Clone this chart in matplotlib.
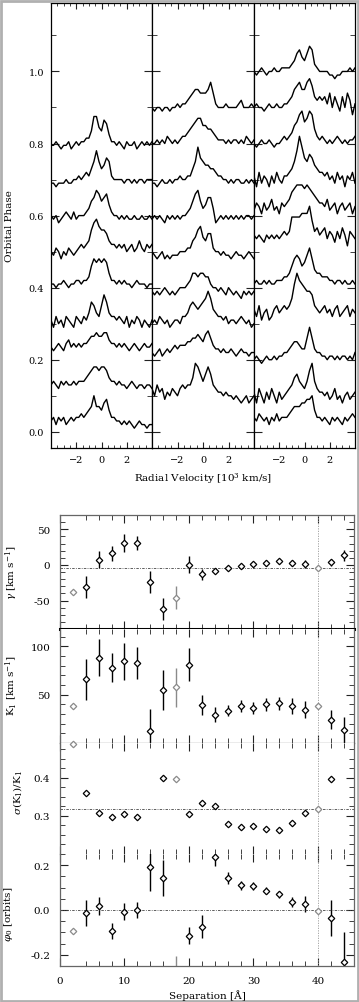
import numpy as np
import matplotlib
matplotlib.use("Agg")
import matplotlib.pyplot as plt
from matplotlib.ticker import MultipleLocator, FixedLocator, FormatStrFormatter
from matplotlib.patches import Rectangle

plt.rcParams['font.family'] = ['DejaVu Serif']
plt.rcParams['mathtext.fontset'] = 'dejavuserif'

# ---------------- trailed spectra (top) ----------------
VEL = np.linspace(-4, 4, 41)     # 10^3 km/s
FLUX_UNIT = 0.01                 # spectrum units -> phase units

# panel 1: baseline phases and profiles (bottom to top)
P1_BASE = [0.03, 0.13, 0.235, 0.30, 0.41, 0.50, 0.59, 0.69, 0.795]
P1_SPEC = [
    [0,1,-1,1,0,1,-1,0,1,0,1,1,2, 1,2,3,4,7,4,4,3,5,6,3,1,1,0,0, -1,0,-1,0,-1,-2,-1,0,-1,-1,-2,-1,-1],
    [0,1,0,-1,1,0,1,0,0,1,0,1,1, 1,2,3,4,5,5,4,5,5,4,2,1,1,0,1, 0,0,-1,0,1,0,-1,0,0,-1,0,0,-1],
    [0,-1,0,1,0,-1,1,2,0,1,0,1,0, 1,1,2,3,3,4,3,3,4,4,2,1,1,0,1, 0,1,0,-1,0,1,0,-1,0,1,0,0,1],
    [1,-1,2,0,1,-1,2,1,0,-1,2,1,0, 2,1,3,6,5,3,2,5,8,6,3,2,2,1,2, 1,0,2,-1,1,0,2,1,-1,1,0,-1,1],
    [0,0,-1,0,0,1,0,-1,0,0,1,1,0, 1,1,2,5,7,6,7,6,7,6,3,1,1,0,1, 0,1,0,0,-1,0,1,0,0,0,-1,0,0],
    [0,-1,1,0,-2,0,-1,1,0,-1,0,1,2, 1,2,3,6,8,9,7,6,6,5,3,2,2,1,2, 1,2,0,1,2,0,1,3,1,0,2,1,2],
    [1,0,1,-1,0,1,2,1,0,2,0,1,1, 1,2,3,5,6,8,7,5,6,7,4,2,1,1,0, 1,0,1,0,0,1,0,0,1,0,0,1,0],
    [0,0,-1,0,0,0,1,0,0,1,1,2,1, 2,3,2,4,6,9,6,4,5,7,6,2,1,1,1, 1,0,1,1,0,1,0,1,1,0,1,1,1],
    [0,0,1,0,-1,0,0,1,-1,0,1,0,1, 1,2,2,4,8,8,5,4,7,6,3,1,1,0,1, 0,-1,1,0,0,1,-1,0,1,0,1,0,1],
]

P2_BASE = [0.10, 0.22, 0.30, 0.38, 0.49, 0.59, 0.69, 0.80, 0.90]
P2_SPEC = [
    [2,0,3,1,2,-1,1,0,2,1,0,2,3, 2,3,3,5,9,8,6,4,6,8,6,3,2,1,1, 0,1,0,0,-1,0,-1,-2,-1,0,-2,-1,0],
    [0,-1,0,1,-1,0,1,0,1,2,1,2,2, 2,3,3,4,4,5,4,3,5,6,4,2,1,1,0, 1,0,0,1,0,-1,0,1,0,0,-1,0,0],
    [0,1,0,2,1,0,1,-1,0,1,1,0,2, 2,3,5,6,5,4,5,6,7,9,7,4,3,2,2, 1,2,0,1,1,0,1,2,1,0,1,-1,0],
    [1,0,1,0,1,2,1,0,1,0,1,2,2, 2,3,4,6,6,5,6,6,5,5,3,2,2,1,2, 1,0,2,1,0,1,0,-1,1,0,1,0,1],
    [1,0,-1,0,1,-1,0,-1,0,0,0,1,1, 1,2,2,4,5,7,8,5,4,6,6,2,1,1,0, 1,0,0,-1,0,1,0,0,-1,0,1,0,-1],
    [0,1,0,1,0,-1,1,0,1,0,1,0,1, 1,2,3,5,7,8,5,3,4,6,6,3,-1,0,1, 0,1,0,1,0,1,0,1,0,1,1,0,1],
    [0,0,-1,0,1,0,0,1,0,1,1,2,1, 1,2,2,4,6,10,7,6,5,5,4,4,3,2,2, 1,1,0,1,0,1,1,0,0,1,0,1,0],
    [0,0,1,0,1,0,2,1,0,1,0,1,2, 2,3,4,5,6,7,7,5,5,4,4,3,2,1,1, 1,0,1,0,1,1,0,1,0,2,1,0,1],
    [0,-1,0,0,-1,0,0,-1,0,0,1,0,1, 1,2,3,4,5,5,4,4,4,5,7,4,1,0,0, 0,1,0,0,0,0,1,2,0,0,0,1,0],
]

P3_BASE = [0.03, 0.09, 0.20, 0.32, 0.41, 0.536, 0.615, 0.69, 0.80, 0.90, 1.00]
P3_SPEC = [
    [1,0,2,1,0,1,-1,1,0,2,0,1,1, 1,2,3,4,4,4,5,5,6,6,7,3,1,1,0, 1,0,-1,1,0,1,0,-1,1,0,1,2,1],
    [2,-1,3,1,-1,2,0,3,1,-1,2,0,1, 2,3,4,6,7,5,4,3,5,8,10,5,3,2,2, 1,2,0,1,3,0,1,-1,1,2,0,1,2],
    [0,1,0,-1,0,1,0,0,1,0,1,1,2, 2,3,4,5,5,4,3,3,6,9,6,3,2,2,1, 1,0,1,1,0,1,0,1,1,0,1,0,2],
    [2,0,3,-1,1,2,-1,0,2,3,1,2,3, 2,3,5,9,12,10,9,8,7,7,6,3,2,1,2, 3,1,2,0,2,3,0,1,2,3,0,2,1],
    [0,1,0,0,1,0,1,0,0,1,1,1,2, 2,3,5,7,8,7,5,6,8,10,7,4,3,3,2, 2,2,1,1,0,1,1,0,1,0,0,1,0],
    [1,0,1,0,-1,1,0,1,0,1,0,1,2, 1,2,6,6,6,6,7,7,7,9,5,2,3,1,2, 3,0,2,1,-1,2,0,3,1,-2,2,1,0],
    [0,2,1,-1,2,0,1,3,0,1,-1,2,1, 2,3,5,6,7,7,7,6,7,6,5,4,3,2,2, 1,3,0,1,2,-1,1,2,0,1,2,-1,1],
    [2,-1,3,0,2,1,-1,2,0,3,1,0,2, 2,3,4,6,9,13,10,7,6,8,7,5,4,3,3, 2,3,1,2,0,3,1,2,-1,2,1,3,0],
    [0,-1,0,1,0,0,1,0,-1,0,0,1,2, 1,2,3,5,6,8,9,6,7,9,8,4,2,1,2, 1,0,1,0,1,2,1,0,1,0,1,1,2],
    [0,1,0,0,-1,0,1,0,0,1,0,0,1, 1,2,3,5,6,7,5,5,7,8,6,3,2,3,2, 3,1,4,0,3,1,-1,3,0,4,2,-2,1],
    [0,-1,0,1,0,-1,0,0,1,0,0,1,1, 1,1,2,3,5,6,4,3,5,7,6,2,1,0,0, 0,0,-1,-1,-2,-1,-1,0,0,0,1,0,1],
]

# ---------------- parameters vs separation (bottom) ----------------
SEP = [2, 4, 6, 8, 10, 12, 14, 16, 18, 20, 22, 24, 26, 28, 30, 32, 34, 36, 38, 40, 42, 44]
GAMMA = [-37.5, -31, 7, 16, 31, 31, -24, -62, -46, 0, -13.5, -8.5, -4, -1.5, 1, 2.5, 5, 3, 1, -5, 3.5, 13.5]
GAMMA_ERR = [0, 15, 12, 10, 12.5, 10, 16, 16, 16, 12, 8, 3, 2, 3, 3, 4, 3, 4, 6, 1, 5, 8]
K1 = [38.5, 66, 88.5, 78, 84.5, 83, 12, 55, 57.5, 81, 39.5, 29.5, 33.5, 38, 36, 40, 41, 38.5, 34.5, 38.5, 24, 13.5]
K1_ERR = [0, 21, 19, 15, 19, 16.5, 23, 21, 20, 17, 10, 8, 6, 6, 6, 7, 7, 8, 9, 0, 10, 13]
SIGK = [0.49, 0.361, 0.307, 0.297, 0.306, 0.297, np.nan, 0.40, 0.396, 0.305, 0.334, 0.326,
        0.28, 0.271, 0.273, 0.265, 0.264, 0.282, 0.307, 0.318, 0.398, np.nan]
PHI0 = [-0.093, -0.013, 0.018, -0.093, -0.007, 0.0, 0.193, 0.141, -0.30, -0.114, -0.074, 0.237,
        0.144, 0.111, 0.107, 0.086, 0.070, 0.034, 0.027, -0.003, -0.037, -0.23]
PHI0_ERR = [0, 0.059, 0.04, 0.035, 0.037, 0.037, 0.107, 0.08, 0.093, 0.04, 0.05, 0.04,
            0.026, 0.02, 0.018, 0.015, 0.015, 0.022, 0.037, 0, 0.08, 0.13]
GREY_SEP = [2, 18, 40]
REF_LINES = {"gamma": -5, "sigk": 0.318, "phi0": 0.0}
MARK_SEP = 40

W, H = 359, 1003
fig = plt.figure(figsize=(W / 100, H / 100), dpi=100)
fig.patches.append(Rectangle((0.002, 0.001), 0.994, 0.997, transform=fig.transFigure,
                             fill=False, edgecolor="#b0b0b0", lw=2))

def px_axes(x0, y0, x1, y1):
    return fig.add_axes([x0 / W, 1 - y1 / H, (x1 - x0) / W, (y1 - y0) / H])

# top spectra panels
edges = [51, 152, 254, 355]
panels = [(P1_BASE, P1_SPEC), (P2_BASE, P2_SPEC), (P3_BASE, P3_SPEC)]
for k, (bases, specs) in enumerate(panels):
    ax = px_axes(edges[k], 4, edges[k + 1], 449)
    for b, s in zip(bases, specs):
        ax.plot(VEL, b + np.array(s) * FLUX_UNIT, color="k", lw=1.0)
    ax.set_xlim(-4, 4)
    ax.set_ylim(-0.045, 1.19)
    ax.xaxis.set_major_locator(FixedLocator([-2, 0, 2]))
    ax.xaxis.set_minor_locator(MultipleLocator(0.5))
    ax.yaxis.set_major_locator(MultipleLocator(0.2))
    ax.yaxis.set_minor_locator(MultipleLocator(0.1))
    ax.yaxis.set_major_formatter(FormatStrFormatter("%.1f"))
    ax.tick_params(which="both", direction="in", top=True, right=True, labelsize=7, color="#222")
    ax.tick_params(axis="y", which="major", length=5.5, pad=5)
    ax.tick_params(axis="y", which="minor", length=3.5)
    ax.tick_params(axis="x", which="major", length=4.5, pad=5)
    ax.tick_params(axis="x", which="minor", length=2.5)
    if k > 0:
        ax.set_yticklabels([])
    for sp in ax.spines.values():
        sp.set_linewidth(0.9)

fig.text(10 / W, 1 - 226 / H, "Orbital Phase", rotation=90, ha="center", va="center", fontsize=7.5)
fig.text(203 / W, 1 - 479 / H, r"Radial Velocity [10$^3$ km/s]", ha="center", va="center", fontsize=7.5)

# bottom parameter panels
rows = [(516, 630), (630, 744), (744, 855), (855, 967)]
axs = [px_axes(60, r0, 354, r1) for r0, r1 in rows]
series = [(GAMMA, GAMMA_ERR), (K1, K1_ERR), (SIGK, None), (PHI0, PHI0_ERR)]
ylims = [(-90, 70), (0, 118), (0.2, 0.492), (-0.25, 0.25)]
majors = [[-50, 0, 50], [50, 100], [0.3, 0.4], [-0.2, 0.0, 0.2]]
minors = [10, 10, 0.025, 0.05]
fmts = ["%d", "%d", "%.1f", "%.1f"]
refs = [REF_LINES["gamma"], None, REF_LINES["sigk"], REF_LINES["phi0"]]

for i, ax in enumerate(axs):
    vals, errs = series[i]
    for j, x in enumerate(SEP):
        if np.isnan(vals[j]):
            continue
        c = "#8a8a8a" if x in GREY_SEP else "k"
        e = errs[j] if errs is not None else 0
        ax.errorbar(x, vals[j], yerr=e if e > 0 else None, fmt="D", ms=3.3, mfc="white",
                    mec=c, mew=0.9, ecolor=c, elinewidth=1.0, capsize=0, clip_on=(i != 2))
    if refs[i] is not None:
        ax.axhline(refs[i], color="#444", lw=0.6, ls=(0, (3, 1.5, 1, 1.5)))
    ax.axvline(MARK_SEP, color="#999", lw=0.6, ls=(0, (1.5, 1.5)))
    ax.set_xlim(0, 45.6)
    ax.set_ylim(*ylims[i])
    ax.xaxis.set_major_locator(FixedLocator([0, 10, 20, 30, 40]))
    ax.xaxis.set_minor_locator(FixedLocator(np.arange(4, 46, 2)))
    ax.yaxis.set_major_locator(FixedLocator(majors[i]))
    ax.yaxis.set_minor_locator(MultipleLocator(minors[i]))
    ax.yaxis.set_major_formatter(FormatStrFormatter(fmts[i]))
    ax.tick_params(which="both", direction="in", top=True, right=True, labelsize=7.5, color="#222")
    ax.tick_params(which="major", length=6, pad=7)
    ax.tick_params(which="minor", length=3.5)
    if i < 3:
        ax.set_xticklabels([])
    for sp in ax.spines.values():
        sp.set_linewidth(0.9)
        sp.set_color("#666")

axs[0].spines["bottom"].set_linewidth(2.2)
axs[0].spines["bottom"].set_color("k")
axs[1].spines["top"].set_visible(False)
axs[2].spines["top"].set_visible(False)
axs[2].spines["bottom"].set_visible(False)
axs[3].spines["top"].set_visible(False)

fig.text(12 / W, 1 - 573 / H, r"$\gamma$ [km s$^{-1}$]", rotation=90, ha="center", va="center", fontsize=7.5)
fig.text(12 / W, 1 - 685 / H, r"K$_1$ [km s$^{-1}$]", rotation=90, ha="center", va="center", fontsize=7.5)
fig.text(17 / W, 1 - 793 / H, r"$\sigma$(K$_1$)/K$_1$", rotation=90, ha="center", va="center", fontsize=7.5)
fig.text(9 / W, 1 - 914 / H, r"$\varphi_0$ [orbits]", rotation=90, ha="center", va="center", fontsize=7.5)
fig.text(207 / W, 1 - 996 / H, "Separation [Å]", ha="center", va="center", fontsize=7.5)

fig.savefig("out.png", dpi=100)
